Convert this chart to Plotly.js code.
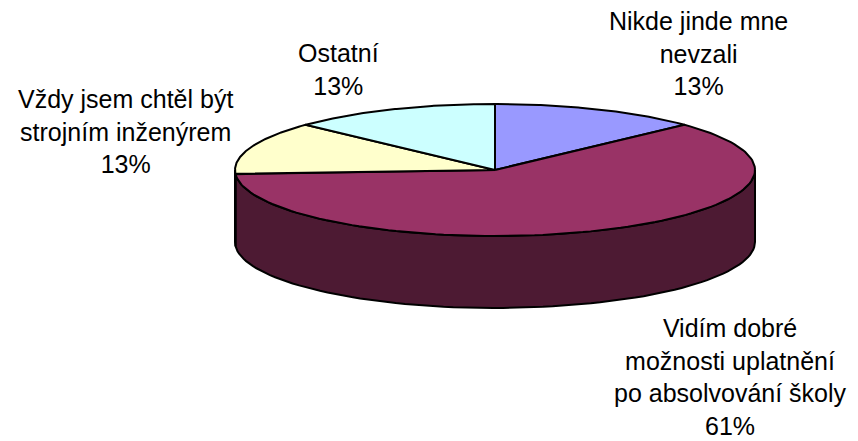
<!DOCTYPE html>
<html>
<head>
<meta charset="utf-8">
<script src="https://cdn.plot.ly/plotly-3.0.1.min.js"></script>
<style>html,body{margin:0;padding:0;background:#fff;}#chart{width:858px;height:441px;}</style>
</head>
<body>
<div id="chart"></div>
<script>
// Data
var categories = ["Nikde jinde mne nevzali", "Vidím dobré možnosti uplatnění po absolvování školy", "Vždy jsem chtěl být strojním inženýrem", "Ostatní"];
var labelTexts = ["Nikde jinde mne<br>nevzali", "Vidím dobré<br>možnosti uplatnění<br>po absolvování školy", "Vždy jsem chtěl být<br>strojním inženýrem", "Ostatní"];
var values = [13, 61, 13, 13];
var topColors = ["#9999FF", "#993366", "#FFFFCC", "#CCFFFF"];
var sideColors = ["#4D4D80", "#4D1A33", "#808066", "#668080"];

// Geometry (styling of the 3D pie)
var cx = 495, cy = 170, rx = 260, ry = 66, depth = 72;
var total = values.reduce(function(a, b){ return a + b; }, 0);

function pt(theta, dy) {
  return [cx + rx * Math.sin(theta), cy - ry * Math.cos(theta) + (dy || 0)];
}

var traces = [];
var start = 0;
var slices = [];
values.forEach(function(v, i) {
  var a0 = start / total * 2 * Math.PI;
  var a1 = (start + v) / total * 2 * Math.PI;
  slices.push([a0, a1]);
  start += v;
});

// Side walls (visible front half: theta in [PI/2, 3PI/2])
slices.forEach(function(s, i) {
  var lo = Math.max(s[0], Math.PI / 2), hi = Math.min(s[1], 3 * Math.PI / 2);
  if (hi <= lo) return;
  var xs = [], ys = [], n = 80, k, t, p;
  for (k = 0; k <= n; k++) { t = lo + (hi - lo) * k / n; p = pt(t, 0); xs.push(p[0]); ys.push(p[1]); }
  for (k = n; k >= 0; k--) { t = lo + (hi - lo) * k / n; p = pt(t, depth); xs.push(p[0]); ys.push(p[1]); }
  xs.push(xs[0]); ys.push(ys[0]);
  traces.push({type: "scatter", mode: "lines", x: xs, y: ys, fill: "toself", fillcolor: sideColors[i],
    line: {color: "#000", width: 2}, hoverinfo: "skip", showlegend: false});
});

// Top faces
slices.forEach(function(s, i) {
  var xs = [cx], ys = [cy], n = 120, k, t, p;
  for (k = 0; k <= n; k++) { t = s[0] + (s[1] - s[0]) * k / n; p = pt(t, 0); xs.push(p[0]); ys.push(p[1]); }
  xs.push(cx); ys.push(cy);
  traces.push({type: "scatter", mode: "lines", x: xs, y: ys, fill: "toself", fillcolor: topColors[i],
    line: {color: "#000", width: 2}, name: categories[i], text: categories[i] + ": " + values[i] + "%",
    hoverinfo: "text", showlegend: false});
});

var labelPos = [[698, 53], [730, 377], [125, 131], [338, 69]];
var annotations = values.map(function(v, i) {
  var pct = Math.round(v / total * 100);
  return {xref: "x", yref: "y", x: labelPos[i][0], y: labelPos[i][1], xanchor: "center", yanchor: "middle",
    text: labelTexts[i] + "<br>" + pct + "%", showarrow: false, align: "center",
    font: {family: "Liberation Sans, Arial, sans-serif", size: 25, color: "#000"}};
});

var layout = {
  width: 858, height: 441,
  margin: {l: 0, r: 0, t: 0, b: 0},
  paper_bgcolor: "#fff", plot_bgcolor: "#fff",
  xaxis: {range: [0, 858], visible: false, fixedrange: true},
  yaxis: {range: [441, 0], visible: false, fixedrange: true},
  annotations: annotations,
  showlegend: false
};

Plotly.newPlot("chart", traces, layout, {displayModeBar: false, staticPlot: false});
</script>
</body>
</html>
